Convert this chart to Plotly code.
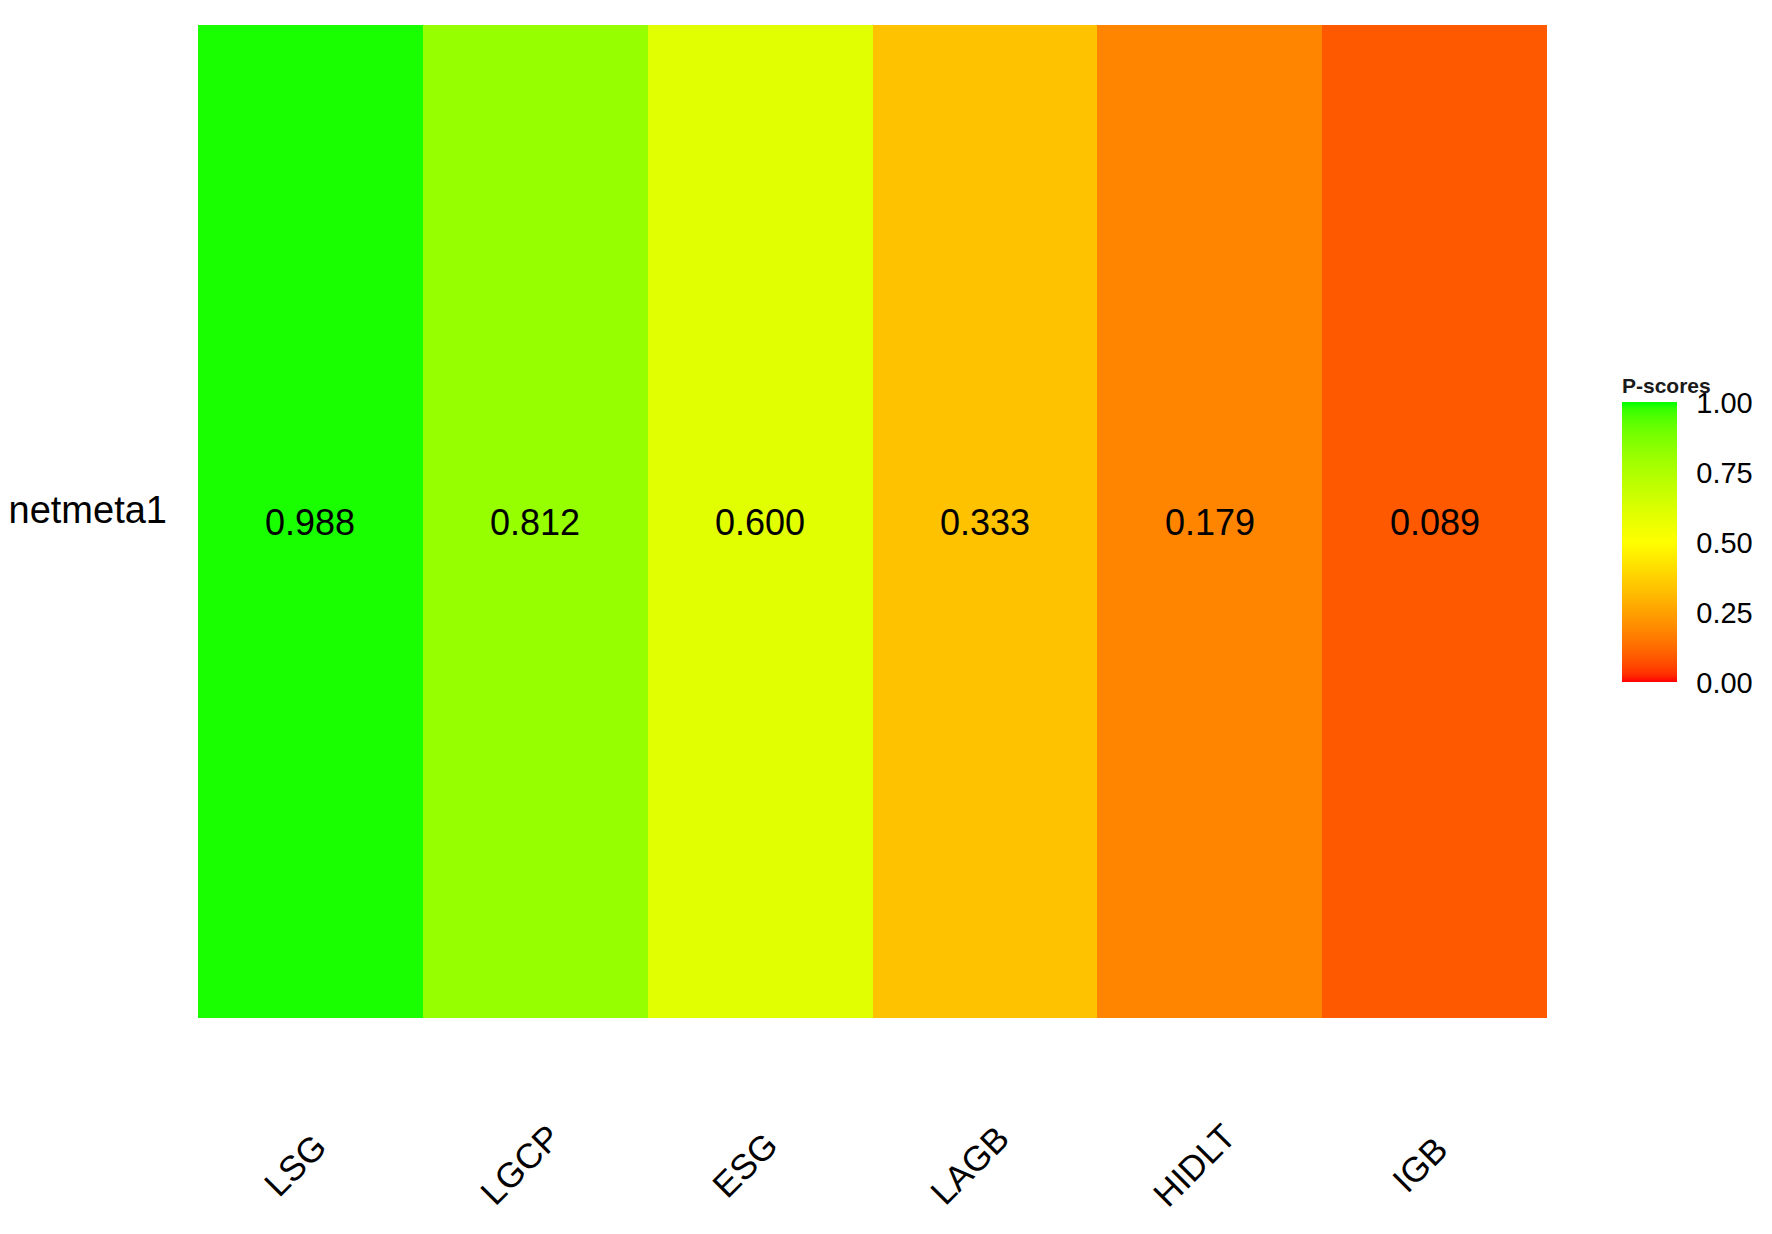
import numpy as np
import plotly.graph_objects as go

# P-scores per treatment (one network meta-analysis)
treatments = ["LSG", "LGCP", "ESG", "LAGB", "HIDLT", "IGB"]
analysis = ["netmeta1"]
pscores = [0.988, 0.812, 0.600, 0.333, 0.179, 0.089]
bar_ticks = [0.0, 0.25, 0.50, 0.75, 1.0]

# ggplot style gradient red -> yellow -> green, interpolated in Lab space
anchors = [(0.0, (255, 0, 0)), (0.5, (255, 255, 0)), (1.0, (0, 255, 0))]
WHITE = np.array([0.95047, 1.0, 1.08883])
M = np.array([[0.4124, 0.3576, 0.1805],
              [0.2126, 0.7152, 0.0722],
              [0.0193, 0.1192, 0.9505]])


def to_lab(rgb):
    c = np.array(rgb) / 255.0
    c = np.where(c > 0.04045, ((c + 0.055) / 1.055) ** 2.4, c / 12.92)
    xyz = M @ c / WHITE
    f = np.where(xyz > 0.008856, np.cbrt(xyz), 7.787 * xyz + 16 / 116)
    return np.array([116 * f[1] - 16, 500 * (f[0] - f[1]), 200 * (f[1] - f[2])])


def to_rgb(lab):
    fy = (lab[0] + 16) / 116
    fx = fy + lab[1] / 500
    fz = fy - lab[2] / 200
    f = np.array([fx, fy, fz])
    xyz = np.where(f ** 3 > 0.008856, f ** 3, (f - 16 / 116) / 7.787) * WHITE
    c = np.linalg.solve(M, xyz)
    c = np.clip(c, 0, 1)
    c = np.where(c > 0.0031308, 1.055 * c ** (1 / 2.4) - 0.055, 12.92 * c)
    c = np.clip(np.round(c * 255), 0, 255).astype(int)
    return "rgb(%d,%d,%d)" % tuple(c)


scale = []
for (p0, c0), (p1, c1) in zip(anchors[:-1], anchors[1:]):
    l0, l1 = to_lab(c0), to_lab(c1)
    for t in np.linspace(0, 1, 21):
        if scale and t == 0:
            continue
        scale.append([p0 + (p1 - p0) * t, to_rgb(l0 + (l1 - l0) * t)])

FONT = "Liberation Sans, Arial, sans-serif"

fig = go.Figure(go.Heatmap(
    z=[pscores], x=treatments, y=analysis,
    zmin=0, zmax=1, colorscale=scale,
    texttemplate="%{z:.3f}",
    textfont=dict(size=36, color="black", family=FONT),
    colorbar=dict(
        title=dict(text="<b>P-scores</b>", side="top",
                   font=dict(size=21, color="#1a1a1a", family=FONT)),
        tickvals=bar_ticks, tickformat=".2f",
        tickfont=dict(size=29, color="black", family=FONT),
        ticks="outside", ticklen=14, tickcolor="white", tickwidth=1,
        thickness=55, thicknessmode="pixels",
        len=308, lenmode="pixels",
        x=1.0556, xanchor="left", xpad=0,
        y=0.338, yanchor="bottom", ypad=0,
        outlinewidth=0,
    ),
    hoverongaps=False,
))

# rotated treatment labels below the tiles (centred like ggplot's angle = 45)
for t in treatments:
    fig.add_annotation(x=t, y=-0.148, xref="x", yref="paper",
                       text=t, textangle=-45, showarrow=False,
                       xanchor="center", yanchor="middle", xshift=-15,
                       font=dict(size=35, color="black", family=FONT))

fig.update_xaxes(showticklabels=False, showgrid=False, zeroline=False,
                 showline=False, ticks="", automargin=False)
fig.update_yaxes(showgrid=False, zeroline=False, showline=False, ticks="",
                 automargin=False,
                 ticklabelstandoff=30, ticklabelshift=-12,
                 tickfont=dict(size=38, color="black", family=FONT))

fig.update_layout(
    width=1772, height=1234,
    margin=dict(l=190, r=233, t=17, b=224),
    plot_bgcolor="white", paper_bgcolor="white",
    font=dict(family=FONT),
)

fig.write_html("out.html")
